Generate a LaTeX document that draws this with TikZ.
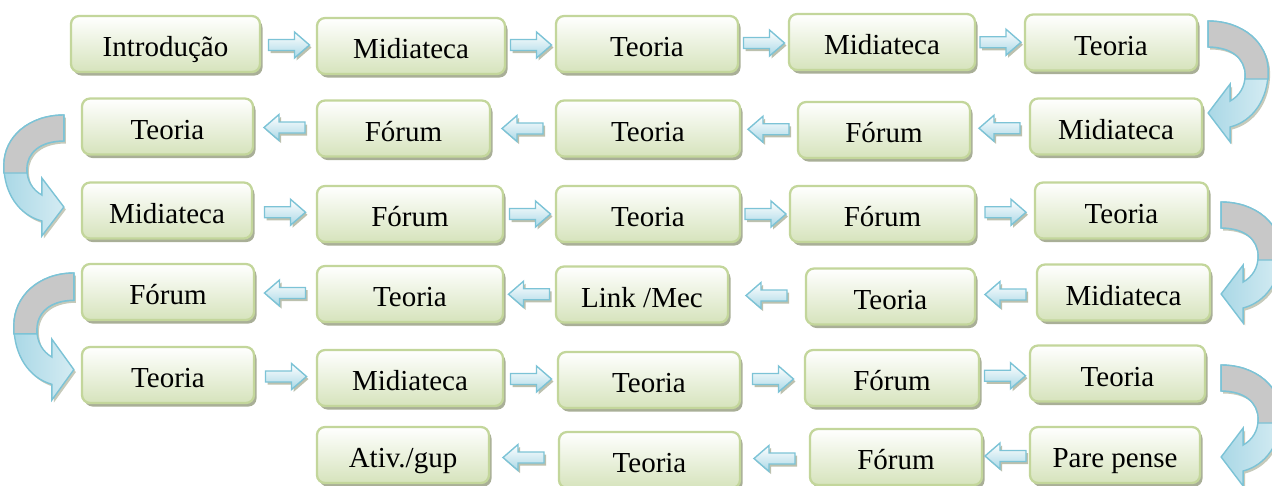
\documentclass[tikz,border=0pt]{standalone}
\usepackage{fontspec}
\setmainfont{Liberation Serif}
\usepackage{tikz}
\usetikzlibrary{calc, shadows}

\definecolor{verdeborda}{RGB}{195,214,155}
\definecolor{verdefundo}{RGB}{214,227,188}
\definecolor{sombra}{RGB}{160,166,140}
\definecolor{azulborda}{RGB}{124,195,214}
\definecolor{azulfundo}{RGB}{170,216,230}
\definecolor{cinza}{RGB}{200,200,200}

\tikzset{
	caixa/.style={draw=verdeborda, line width=1.3pt, rounded corners=0.16cm,
		top color=white, bottom color=verdefundo,
		minimum width=#1*0.02cm, minimum height=1.12cm, inner sep=0pt,
		text height=0.62cm, text depth=0.12cm,
		font=\fontsize{16.5}{18}\selectfont,
		drop shadow={shadow xshift=0.05cm, shadow yshift=-0.07cm, fill=sombra, opacity=0.9}},
	caixa/.default=175,
	seta/.pic={
		\draw[azulborda, line width=0.8pt, top color=white, bottom color=azulfundo,
			drop shadow={shadow xshift=0.04cm, shadow yshift=-0.05cm, fill=sombra, opacity=0.7}]
			(-20,-5.5) -- (6,-5.5) -- (6,-13) -- (21,0) -- (6,13) -- (6,5.5) -- (-20,5.5) -- cycle;
	},
	curva/.pic={
		\draw[azulborda, line width=0.8pt, left color=azulfundo, right color=white!50!azulfundo,
			drop shadow={shadow xshift=0.04cm, shadow yshift=-0.05cm, fill=sombra, opacity=0.6}]
			(0,0) .. controls (35,0) and (60,22) .. (60,50) .. controls (60,78) and (45,100) .. (22,106)
			-- (22,121) -- (0,92) -- (22,63) -- (22,80)
			.. controls (31,75) and (37,66) .. (37,54) .. controls (37,38) and (24,26) .. (0,26) -- cycle;
		\draw[azulborda, line width=0.8pt, fill=cinza]
			(0,0) .. controls (35,0) and (60,22) .. (60,50) -- (60,58) -- (37,58) -- (37,54)
			.. controls (37,38) and (24,26) .. (0,26) -- cycle;
	}
}

\begin{document}
\begin{tikzpicture}[x=0.02cm, y=-0.02cm]
		
		% Fix the page to the picture size
		\useasboundingbox (0,0) rectangle (1272,485);
		
		% Row 1
		\node[caixa=189] (a1) at (165.5,44) {Introdução};
		\node[caixa=188] (a2) at (411,46) {Midiateca};
		\node[caixa=182] (a3) at (647,44) {Teoria};
		\node[caixa=186] (a4) at (882,42) {Midiateca};
		\node[caixa=172] (a5) at (1111,42.5) {Teoria};
		
		% Row 2
		\node[caixa=171] (b1) at (167.5,126.5) {Teoria};
		\node[caixa=173] (b2) at (403.5,128.5) {Fórum};
		\node[caixa=184] (b3) at (648,128.5) {Teoria};
		\node[caixa=172] (b4) at (884,130) {Fórum};
		\node[caixa=172] (b5) at (1116,126.5) {Midiateca};
		
		% Row 3
		\node[caixa=170] (c1) at (167,210.5) {Midiateca};
		\node[caixa=186] (c2) at (410,214) {Fórum};
		\node[caixa=184] (c3) at (648,214) {Teoria};
		\node[caixa=185] (c4) at (882.5,214) {Fórum};
		\node[caixa=173] (c5) at (1121.5,210.5) {Teoria};
		
		% Row 4
		\node[caixa=172] (d1) at (168,292) {Fórum};
		\node[caixa=186] (d2) at (410,294) {Teoria};
		\node[caixa=172] (d3) at (642,294.5) {Link /Mec};
		\node[caixa=169] (d4) at (890.5,296.5) {Teoria};
		\node[caixa=173] (d5) at (1123.5,292.5) {Midiateca};
		
		% Row 5
		\node[caixa=172] (e1) at (168,375) {Teoria};
		\node[caixa=186] (e2) at (410,378) {Midiateca};
		\node[caixa=182] (e3) at (649,380) {Teoria};
		\node[caixa=174] (e4) at (892,378) {Fórum};
		\node[caixa=175] (e5) at (1117.5,373.5) {Teoria};
		
		% Row 6
		\node[caixa=172] (f2) at (403,455) {Ativ./gup};
		\node[caixa=181] (f3) at (649.5,460) {Teoria};
		\node[caixa=172] (f4) at (896,457) {Fórum};
		\node[caixa=170] (f5) at (1115,455) {Pare pense};
		
		% Arrows to the right, row 1
		\pic at ($(a1.east)!0.5!(a2.west)$) {seta};
		\pic at ($(a2.east)!0.5!(a3.west)$) {seta};
		\pic at ($(a3.east)!0.5!(a4.west)$) {seta};
		\pic at ($(a4.east)!0.5!(a5.west)$) {seta};
		
		% Arrows to the left, row 2
		\pic[xscale=-1] at ($(b1.east)!0.5!(b2.west)$) {seta};
		\pic[xscale=-1] at ($(b2.east)!0.5!(b3.west)$) {seta};
		\pic[xscale=-1] at ($(b3.east)!0.5!(b4.west)$) {seta};
		\pic[xscale=-1] at ($(b4.east)!0.5!(b5.west)$) {seta};
		
		% Arrows to the right, row 3
		\pic at ($(c1.east)!0.5!(c2.west)$) {seta};
		\pic at ($(c2.east)!0.5!(c3.west)$) {seta};
		\pic at ($(c3.east)!0.5!(c4.west)$) {seta};
		\pic at ($(c4.east)!0.5!(c5.west)$) {seta};
		
		% Arrows to the left, row 4
		\pic[xscale=-1] at ($(d1.east)!0.5!(d2.west)$) {seta};
		\pic[xscale=-1] at ($(d2.east)!0.5!(d3.west)$) {seta};
		\pic[xscale=-1] at ($(d3.east)!0.5!(d4.west)$) {seta};
		\pic[xscale=-1] at ($(d4.east)!0.5!(d5.west)$) {seta};
		
		% Arrows to the right, row 5
		\pic at ($(e1.east)!0.5!(e2.west)$) {seta};
		\pic at ($(e2.east)!0.5!(e3.west)$) {seta};
		\pic at ($(e3.east)!0.5!(e4.west)$) {seta};
		\pic at ($(e4.east)!0.5!(e5.west)$) {seta};
		
		% Arrows to the left, row 6
		\pic[xscale=-1] at ($(f2.east)!0.5!(f3.west)$) {seta};
		\pic[xscale=-1] at ($(f3.east)!0.5!(f4.west)$) {seta};
		\pic[xscale=-1] at ($(f4.east)!0.5!(f5.west)$) {seta};
		
		% Curved arrows between the rows
		\pic at ($(a5.east)+(10,-21.5)$) {curva};
		\pic[xscale=-1] at ($(b1.west)+(-17,-11.5)$) {curva};
		\pic at ($(c5.east)+(12,-8.5)$) {curva};
		\pic[xscale=-1, yscale=1.05] at ($(d1.west)+(-7,-19)$) {curva};
		\pic at ($(e5.east)+(15,-8.5)$) {curva};
		
	\end{tikzpicture}
\end{document}
